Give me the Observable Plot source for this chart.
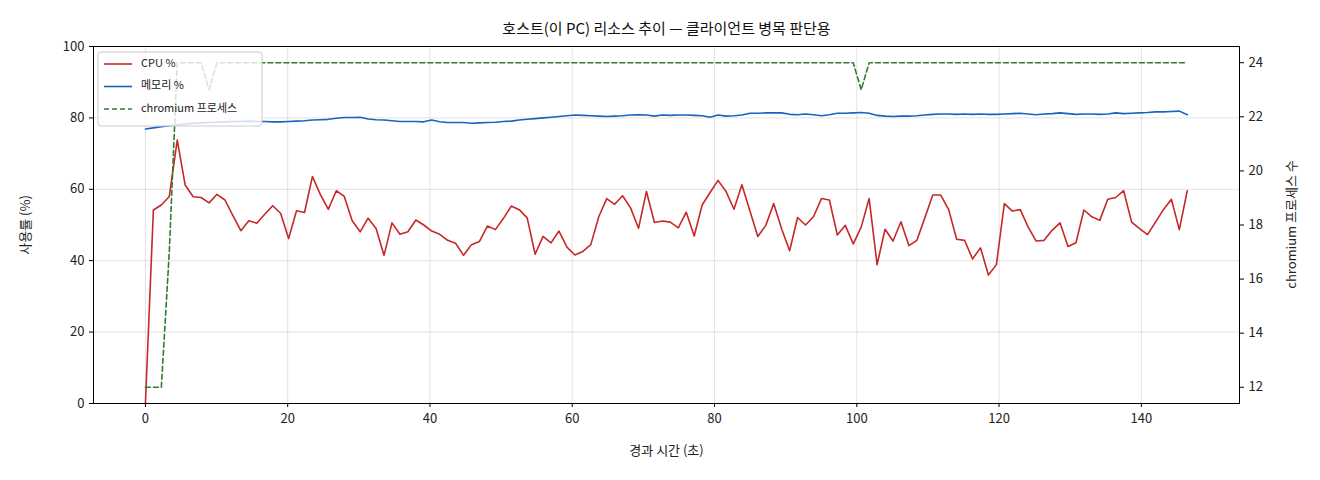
<!DOCTYPE html>
<html>
<head>
<meta charset="utf-8">
<script src="https://cdn.jsdelivr.net/npm/d3@7"></script>
<script src="https://cdn.jsdelivr.net/npm/@observablehq/plot@0.6"></script>
<style>
  html, body { margin: 0; padding: 0; background: #fff; }
  #chart svg { display: block; }
</style>
</head>
<body>
<div id="chart"></div>
<script>
// ---- Data ----
const SAMPLE_SEC = 1.118; // sampling interval, seconds

const cpuPct = [
  0, 54.2, 55.6, 58.0, 73.8, 61.2, 57.9, 57.7, 56.2, 58.6,
  57.0, 52.6, 48.4, 51.2, 50.5, 53.0, 55.4, 53.3, 46.2, 54.0,
  53.5, 63.6, 58.5, 54.4, 59.6, 58.0, 51.2, 48.1, 51.9, 49.0,
  41.5, 50.6, 47.4, 48.1, 51.4, 50.0, 48.3, 47.4, 45.7, 44.9,
  41.5, 44.5, 45.4, 49.7, 48.7, 51.8, 55.3, 54.3, 52.0, 41.8,
  46.8, 45.0, 48.3, 43.8, 41.6, 42.6, 44.5, 52.3, 57.4, 55.8,
  58.2, 54.8, 49.1, 59.4, 50.7, 51.1, 50.8, 49.2, 53.6, 46.9,
  55.6, 59.1, 62.5, 59.4, 54.4, 61.3, 54.0, 46.8, 49.9, 56.0,
  48.9, 42.8, 52.1, 50.0, 52.3, 57.4, 57.0, 47.2, 49.9, 44.7,
  49.4, 57.4, 38.9, 48.8, 45.5, 50.9, 44.2, 45.7, 52.0, 58.4,
  58.4, 54.3, 46.0, 45.7, 40.5, 43.6, 36.0, 38.9, 56.0, 53.9,
  54.3, 49.4, 45.5, 45.7, 48.5, 50.6, 44.0, 45.0, 54.2, 52.3,
  51.3, 57.2, 57.7, 59.6, 50.8, 49.0, 47.3, 50.8, 54.3, 57.2,
  48.7, 59.6
];

const memPct = [
  76.9, 77.2, 77.5, 77.8, 78.1, 78.3, 78.5, 78.6, 78.7, 78.8,
  78.9, 79.0, 79.0, 79.1, 79.0, 79.0, 78.9, 78.9, 79.0, 79.1,
  79.2, 79.4, 79.5, 79.6, 79.9, 80.1, 80.1, 80.2, 79.7, 79.5,
  79.4, 79.2, 79.0, 79.0, 79.0, 78.9, 79.4, 78.9, 78.7, 78.7,
  78.7, 78.5, 78.6, 78.7, 78.8, 79.0, 79.1, 79.4, 79.6, 79.8,
  80.0, 80.2, 80.4, 80.6, 80.8, 80.7, 80.6, 80.5, 80.4, 80.5,
  80.6, 80.8, 80.9, 80.8, 80.5, 80.8, 80.7, 80.8, 80.8, 80.7,
  80.6, 80.2, 80.8, 80.5, 80.6, 80.8, 81.3, 81.3, 81.4, 81.4,
  81.4, 81.0, 80.9, 81.1, 80.9, 80.6, 80.9, 81.3, 81.3, 81.4,
  81.5, 81.3, 80.7, 80.5, 80.4, 80.5, 80.5, 80.6, 80.8, 81.0,
  81.1, 81.1, 81.0, 81.1, 81.0, 81.1, 81.0, 81.0, 81.1, 81.2,
  81.3, 81.1, 80.9, 81.1, 81.2, 81.4, 81.2, 81.0, 81.1, 81.1,
  81.0, 81.1, 81.4, 81.2, 81.3, 81.4, 81.5, 81.7, 81.7, 81.8,
  81.9, 80.9
];

const chromiumProcs = [
  12, 12, 12, 17, 24, 24, 24, 24, 23, 24,
  24, 24, 24, 24, 24, 24, 24, 24, 24, 24,
  24, 24, 24, 24, 24, 24, 24, 24, 24, 24,
  24, 24, 24, 24, 24, 24, 24, 24, 24, 24,
  24, 24, 24, 24, 24, 24, 24, 24, 24, 24,
  24, 24, 24, 24, 24, 24, 24, 24, 24, 24,
  24, 24, 24, 24, 24, 24, 24, 24, 24, 24,
  24, 24, 24, 24, 24, 24, 24, 24, 24, 24,
  24, 24, 24, 24, 24, 24, 24, 24, 24, 24,
  23, 24, 24, 24, 24, 24, 24, 24, 24, 24,
  24, 24, 24, 24, 24, 24, 24, 24, 24, 24,
  24, 24, 24, 24, 24, 24, 24, 24, 24, 24,
  24, 24, 24, 24, 24, 24, 24, 24, 24, 24,
  24, 24
];

const xTicks = [0, 20, 40, 60, 80, 100, 120, 140];
const yTicks = [0, 20, 40, 60, 80, 100];
const procTicks = [12, 14, 16, 18, 20, 22, 24];
const procDomain = [11.4, 24.6];

const seriesNames = ["CPU %", "메모리 %", "chromium 프로세스"];
const seriesColors = ["#c62828", "#1565c0", "#2e7d32"];

const titleText = "호스트(이 PC) 리소스 추이 — 클라이언트 병목 판단용";
const xLabel = "경과 시간 (초)";
const yLabel = "사용률 (%)";
const y2Label = "chromium 프로세스 수";

// ---- map the secondary axis onto the primary y scale ----
const toLeft = v => (v - procDomain[0]) / (procDomain[1] - procDomain[0]) * 100;
const fromLeft = d => procDomain[0] + d / 100 * (procDomain[1] - procDomain[0]);

const rows = cpuPct.map((c, i) => ({
  t: i * SAMPLE_SEC,
  cpu: c,
  mem: memPct[i],
  proc: toLeft(chromiumProcs[i])
}));

const FONT = "'Noto Sans CJK KR', 'Noto Sans', sans-serif";

const chart = Plot.plot({
  width: 1320,
  height: 480,
  marginLeft: 93,
  marginRight: 81,
  marginTop: 46,
  marginBottom: 77,
  style: { fontFamily: FONT, fontSize: "13px", color: "#222", background: "#fff" },
  x: { domain: [-7.3, 153.8] },
  y: { domain: [0, 100] },
  marks: [
    Plot.gridX(xTicks, { stroke: "#b0b0b0", strokeOpacity: 0.35 }),
    Plot.gridY(yTicks, { stroke: "#b0b0b0", strokeOpacity: 0.35 }),
    Plot.axisX(xTicks, {
      tickSize: 4, tickPadding: 6, stroke: "#000",
      label: xLabel, labelAnchor: "center", labelArrow: "none", labelOffset: 51
    }),
    Plot.axisY(yTicks, {
      tickSize: 4, tickPadding: 5, stroke: "#000",
      label: yLabel, labelAnchor: "center", labelArrow: "none", labelOffset: 73
    }),
    Plot.axisY(procTicks.map(toLeft), {
      anchor: "right", tickSize: 4, tickPadding: 5, stroke: "#000",
      tickFormat: d => String(Math.round(fromLeft(d))),
      label: null
    }),
    Plot.lineY(rows, { x: "t", y: "mem", stroke: seriesColors[1], strokeWidth: 1.6 }),
    Plot.lineY(rows, { x: "t", y: "cpu", stroke: seriesColors[0], strokeWidth: 1.6 }),
    Plot.lineY(rows, { x: "t", y: "proc", stroke: seriesColors[2], strokeWidth: 1.6, strokeDasharray: "5,3" }),
    Plot.frame({ stroke: "#000", strokeWidth: 1 }),
    Plot.text([titleText], { frameAnchor: "top", dy: -23, fontSize: 15, fill: "#111" })
  ]
});

document.getElementById("chart").appendChild(chart);

// ---- right axis label + legend (layout decorations) ----
const svg = d3.select(chart);
svg.append("text")
  .attr("transform", "translate(1292," + (46 + 403) / 2 + ") rotate(-90)")
  .attr("text-anchor", "middle")
  .attr("dominant-baseline", "middle")
  .attr("font-family", FONT)
  .attr("font-size", 13)
  .attr("fill", "#222")
  .text(y2Label);

const lg = svg.append("g").attr("transform", "translate(98,52)");
lg.append("rect")
  .attr("width", 164).attr("height", 74).attr("rx", 3)
  .attr("fill", "#fff").attr("fill-opacity", 0.8)
  .attr("stroke", "#ccc");
seriesNames.forEach((name, i) => {
  const y = 12 + i * 22.5;
  lg.append("line")
    .attr("x1", 6).attr("x2", 34).attr("y1", y).attr("y2", y)
    .attr("stroke", seriesColors[i]).attr("stroke-width", 1.6)
    .attr("stroke-dasharray", i === 2 ? "5,3" : null);
  lg.append("text")
    .attr("x", 43).attr("y", y)
    .attr("text-anchor", "start")
    .attr("dominant-baseline", "middle")
    .attr("font-family", FONT).attr("font-size", 11).attr("fill", "#222")
    .text(name);
});
</script>
</body>
</html>
